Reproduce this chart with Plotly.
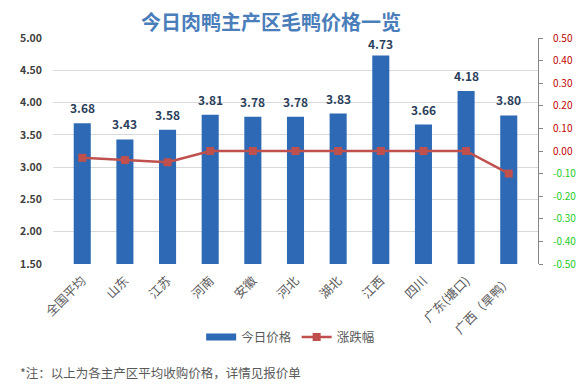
import plotly.graph_objects as go

categories = ["全国平均", "山东", "江苏", "河南", "安徽", "河北", "湖北", "江西", "四川", "广东(塘口)", "广西（旱鸭）"]
prices = [3.68, 3.43, 3.58, 3.81, 3.78, 3.78, 3.83, 4.73, 3.66, 4.18, 3.80]
changes = [-0.03, -0.04, -0.05, 0.00, 0.00, 0.00, 0.00, 0.00, 0.00, 0.00, -0.10]
left_ticks = [1.5, 2.0, 2.5, 3.0, 3.5, 4.0, 4.5, 5.0]
right_ticks = [-0.5, -0.4, -0.3, -0.2, -0.1, 0.0, 0.1, 0.2, 0.3, 0.4, 0.5]

FONT = "Noto Sans CJK SC"
BAR_COLOR = "#2d69b4"
LINE_COLOR = "#c0504d"

fig = go.Figure()
fig.add_trace(go.Bar(
    x=categories, y=prices, name="今日价格",
    marker=dict(color=BAR_COLOR, line=dict(width=0)),
    yaxis="y", showlegend=False,
))
# legend-only entry showing a wide rectangle like the original
fig.add_trace(go.Scatter(
    x=[None], y=[None], name="今日价格", mode="lines",
    line=dict(color=BAR_COLOR, width=7), yaxis="y",
))
fig.add_trace(go.Scatter(
    x=categories, y=changes, name="涨跌幅", mode="lines+markers",
    line=dict(color=LINE_COLOR, width=2.5),
    marker=dict(symbol="square", size=8, color=LINE_COLOR),
    yaxis="y2",
))

for c, v in zip(categories, prices):
    fig.add_annotation(
        x=c, y=v, xref="x", yref="y", text=f"{v:.2f}", showarrow=False,
        yanchor="bottom", yshift=(1 if v > 4.5 else 5),
        font=dict(family=FONT, size=12, color="#2b3f5c", weight="bold"),
    )

def rtxt(v):
    col = "#c00000" if v >= 0 else "#22cc22"
    return f'<span style="color:{col}">{v:.2f}</span>'

fig.add_annotation(
    x=0.449, y=1.071, xref="paper", yref="paper", showarrow=False,
    xanchor="center", yanchor="middle",
    text="今日肉鸭主产区毛鸭价格一览",
    font=dict(family=FONT, size=20, color="#4a7ebb", weight="bold"),
)
fig.add_annotation(
    x=-0.072, y=-0.478, xref="paper", yref="paper", showarrow=False,
    xanchor="left", yanchor="middle",
    text="*注：以上为各主产区平均收购价格，详情见报价单",
    font=dict(family=FONT, size=12.5, color="#595959"),
)

# the page body adds an 8px offset, so the figure is drawn 8px smaller
fig.update_layout(
    width=580, height=380,
    margin=dict(l=40, r=41, t=30, b=124),
    paper_bgcolor="white", plot_bgcolor="white",
    bargap=0.6,
    showlegend=True,
    legend=dict(orientation="h", x=0.49, xanchor="center", y=-0.325, yanchor="middle",
                font=dict(family=FONT, size=12.5, color="#595959"),
                itemwidth=30, tracegroupgap=0),
    xaxis=dict(
        tickangle=-45, tickfont=dict(family=FONT, size=12.5, color="#595959"),
        showgrid=False, showline=False, ticks="", ticklabelstandoff=6,
    ),
    yaxis=dict(
        range=[1.5, 5.0], tickvals=left_ticks, ticktext=[f"{t:.2f}" for t in left_ticks],
        showgrid=True, gridcolor="#d9d9d9", gridwidth=1,
        zeroline=False, showline=False, ticks="",
        ticklabelstandoff=10,
        tickfont=dict(family=FONT, size=10.5, color="#404040", weight="bold"),
    ),
    yaxis2=dict(
        range=[-0.5, 0.5], overlaying="y", side="right",
        tickvals=right_ticks, ticktext=[rtxt(t) for t in right_ticks],
        showgrid=False, zeroline=False, showline=True, linecolor="#868686", linewidth=1,
        ticks="outside", ticklen=4, tickcolor="#868686",
        ticklabelstandoff=8,
        tickfont=dict(family=FONT, size=10),
    ),
)

fig.write_html("out.html")
